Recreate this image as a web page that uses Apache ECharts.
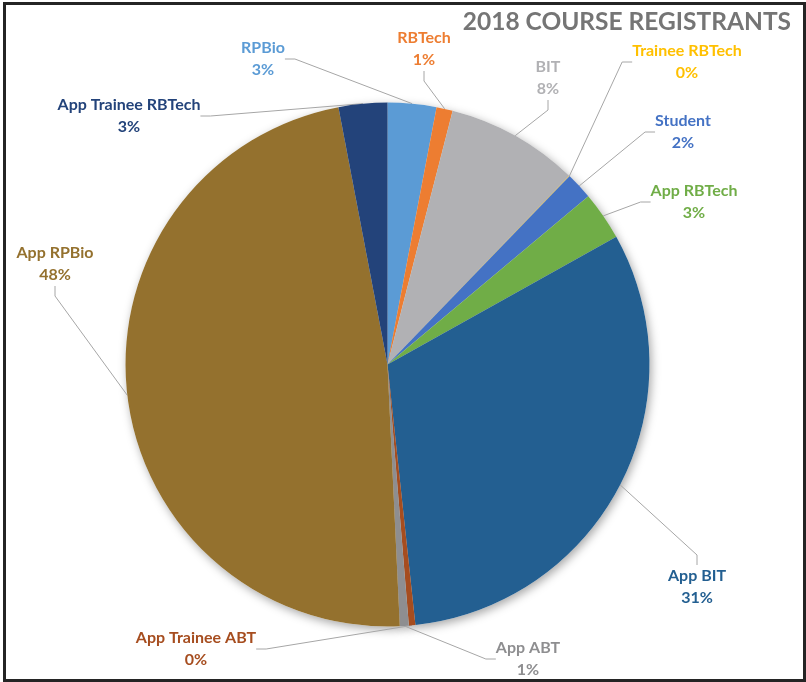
<!DOCTYPE html>
<html lang="en">
<head>
    <meta charset="UTF-8">
    <title>2018 Course Registrants</title>
    <script src="https://cdn.jsdelivr.net/npm/echarts@6/dist/echarts.min.js"></script>
    <style>
        html, body { margin: 0; padding: 0; background: #fff; }
    </style>
</head>
<body>
<div id="myChart" style="height: 682px;width: 806px;"></div>
<script>
    // share of registrants, clockwise from 12 o'clock (percent)
    var names = ['RPBio', 'RBTech', 'BIT', 'Trainee RBTech', 'Student', 'App RBTech',
        'App BIT', 'App Trainee ABT', 'App ABT', 'App RPBio', 'App Trainee RBTech'];
    var values = [3.0, 1.0, 8.2, 0.03, 1.67, 3.0, 31.4, 0.4, 0.55, 47.75, 3.0];
    var colors = ['#5b9bd5', '#ed7d31', '#b1b1b4', '#ffc000', '#4472c4', '#70ad47',
        '#235f91', '#a64d1f', '#8e8e90', '#94712e', '#23437a'];
    // where each label block sits (center)
    var labelPos = [[263, 59], [424, 49], [548, 78], [687, 62], [683, 132], [694, 202],
        [697, 587], [196, 649], [528, 659], [55, 264], [129, 116]];

    var pieData = [];
    var shadowData = [];
    for (let i = 0; i < names.length; i++) {
        pieData.push({
            name: names[i],
            value: values[i],
            itemStyle: { color: colors[i] },
            label: { color: colors[i] }
        });
        shadowData.push({ name: names[i], value: values[i] });
    }

    var chart = echarts.init(document.getElementById('myChart'));
    chart.setOption({
        animation: false,
        title: {
            text: '2018 COURSE REGISTRANTS',
            right: 10,
            top: 5,
            textStyle: {
                fontFamily: 'Lato',
                fontWeight: 'bold',
                fontSize: 24.5,
                color: '#757575'
            }
        },
        graphic: [{
            type: 'rect',
            shape: { x: 4.5, y: 3.5, width: 800, height: 677 },
            style: { fill: 'none', stroke: '#242424', lineWidth: 3 },
            z: 100
        }],
        series: [
            {
                type: 'pie',
                silent: true,
                z: 1,
                center: [387.5, 364.5],
                radius: 262,
                startAngle: 90,
                data: shadowData,
                label: { show: false },
                labelLine: { show: false },
                itemStyle: {
                    color: '#fff',
                    shadowBlur: 10,
                    shadowColor: 'rgba(0,0,0,0.35)',
                    shadowOffsetX: 2,
                    shadowOffsetY: 3
                }
            },
            {
                type: 'pie',
                z: 2,
                center: [387.5, 364.5],
                radius: 262,
                startAngle: 90,
                percentPrecision: 0,
                data: pieData,
                itemStyle: { borderWidth: 0 },
                label: {
                    show: true,
                    position: 'outside',
                    formatter: '{b}\n{d}%',
                    fontFamily: 'Lato',
                    fontWeight: 'bold',
                    fontSize: 16,
                    lineHeight: 22,
                    align: 'center'
                },
                labelLine: {
                    show: true,
                    length: 20,
                    length2: 10,
                    lineStyle: { color: '#a6a6a6', width: 1 }
                },
                labelLayout: function (params) {
                    var p = labelPos[params.dataIndex];
                    return {
                        x: p[0],
                        y: p[1],
                        align: 'center',
                        verticalAlign: 'middle'
                    };
                }
            }
        ]
    });
</script>
</body>
</html>
